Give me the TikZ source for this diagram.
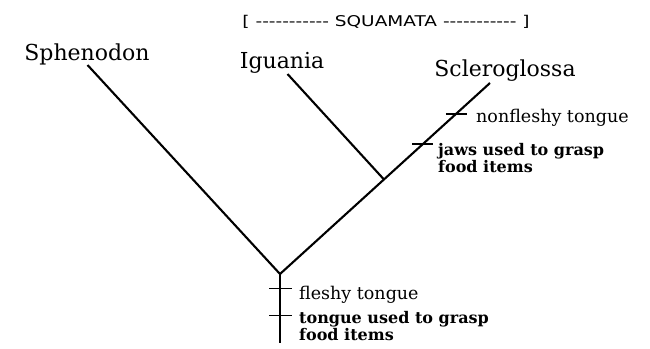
\documentclass[tikz,border=0pt]{standalone}
\usepackage{fontspec}
\setmainfont{DejaVu Serif}
\newfontfamily\cladefont[FakeStretch=1.25]{DejaVu Sans}
\usetikzlibrary{calc}

\begin{document}
\begin{tikzpicture}[x=1pt,y=-1pt,
    branch/.style={line width=2.1pt},
    tick/.style={line width=1.4pt},
    taxon/.style={font=\fontsize{22}{24}\selectfont, anchor=base, inner sep=0pt},
    trait/.style={font=\fontsize{17.5}{18}\selectfont, anchor=west, inner sep=0pt},
    boldtrait/.style={font=\fontsize{16}{17}\bfseries\selectfont, anchor=north west, align=left, inner sep=0pt}]
        \useasboundingbox (0,0) rectangle (650,348);
        % branch points
        \coordinate (root) at (280,274);
        \coordinate (base) at (280,343);
        \coordinate (sphen) at (87.5,65);
        \coordinate (igua) at (287.5,74);
        \coordinate (scler) at (490,83);
        \coordinate (split) at ($(root)!0.495!(scler)$);
        \draw[branch] (sphen) -- (root) -- (scler);
        \draw[branch] (igua) -- (split);
        \draw[branch] (root) -- (base);
        % character ticks
        \coordinate (fl) at ($(root)!0.21!(base)$);
        \coordinate (gr) at ($(root)!0.6!(base)$);
        \coordinate (nf) at ($(root)!0.838!(scler)$);
        \coordinate (jw) at ($(root)!0.681!(scler)$);
        \draw[tick] ($(fl)+(-11,0)$) -- ($(fl)+(12,0)$);
        \draw[tick] ($(gr)+(-11,0)$) -- ($(gr)+(12,0)$);
        \draw[tick] ($(nf)+(-10,0)$) -- ($(nf)+(11,0)$);
        \draw[tick] ($(jw)+(-11,0)$) -- ($(jw)+(10,0)$);
        % labels
        \node[taxon] (sphenlab) at (87,60) {Sphenodon};
        \node[taxon] (igualab) at (282,68) {Iguania};
        \node[taxon] (sclerlab) at (505,76) {Scleroglossa};
        \node[font=\cladefont\fontsize{14.8}{15}\selectfont, inner sep=0pt] (squam) at (386,22) {[ ----------- SQUAMATA ----------- ]};
        \node[trait] (fleshy) at (299,295) {fleshy tongue};
        \node[boldtrait] (tgrasp) at (299,311) {tongue used to grasp\\food items};
        \node[trait] (nonfleshy) at (476,118) {nonfleshy tongue};
        \node[boldtrait] (jgrasp) at (438,143) {jaws used to grasp\\food items};
      \end{tikzpicture}
\end{document}
